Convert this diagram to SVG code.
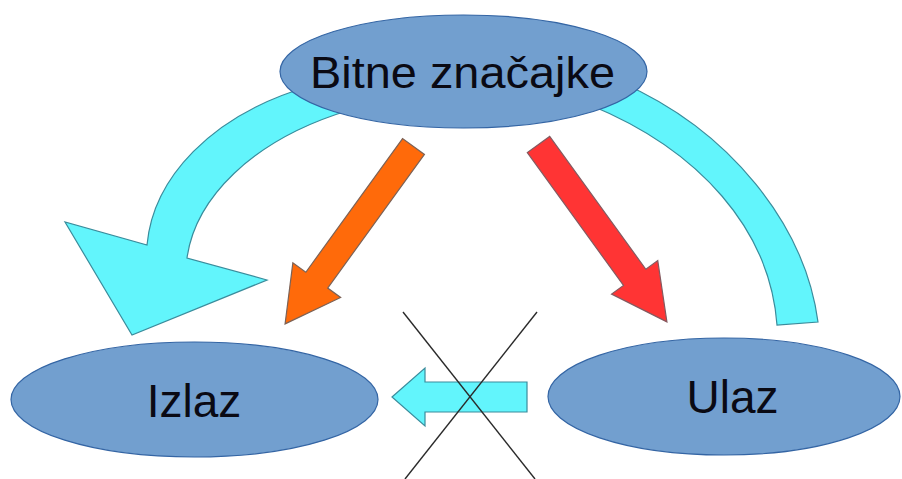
<svg xmlns="http://www.w3.org/2000/svg" width="902" height="479" viewBox="0 0 902 479">
  <defs>
    <style>
      .node { fill: #729fcf; stroke: #3465a4; stroke-width: 1.2; }
      .label { font-family: "Liberation Sans", Arial, sans-serif; fill: #0a0a14; text-anchor: middle; }
      .cyan { fill: #62f5fc; stroke: #3a8c9c; stroke-width: 1.2; stroke-linejoin: miter; }
      .orange { fill: #ff6a0a; stroke: #7c6256; stroke-width: 1.2; }
      .red { fill: #ff3434; stroke: #845a60; stroke-width: 1.2; }
      .cross { stroke: #2a2a2a; stroke-width: 1.4; fill: none; }
    </style>
  </defs>
  <rect width="902" height="479" fill="#ffffff"/>

  <g id="connectors">
    <!-- left curved arrow from top ellipse to Izlaz -->
    <path class="cyan" d="M 310,86 C 210,115 153,179 147,245 L 65,222 L 132,335 L 267,280 L 187,258 C 195,200 250,140 350,110 Z"/>
    <!-- right curved band from top ellipse down towards Ulaz -->
    <path class="cyan" d="M 620,82 C 730,130 805,225 818,322 L 777,325 C 770,230 700,150 590,105 Z"/>
    <!-- orange straight arrow -->
    <polygon class="orange" transform="translate(413.5,146.5) rotate(125.9)" points="0,-13.5 165,-13.5 165,-29.5 219,0 165,29.5 165,13.5 0,13.5"/>
    <!-- red straight arrow -->
    <polygon class="red" transform="translate(538.5,144.5) rotate(54.1)" points="0,-13.8 164,-13.8 164,-28.5 219,0 164,28.5 164,13.8 0,13.8"/>
    <!-- bottom left-pointing arrow -->
    <polygon class="cyan" points="392,397 425,368 425,382 527,382 527,412 425,412 425,426"/>
  </g>

  <g id="cross">
    <line class="cross" x1="403" y1="312" x2="535" y2="479"/>
    <line class="cross" x1="537" y1="312" x2="405" y2="479"/>
  </g>

  <g id="node-bitne">
    <ellipse class="node" cx="463.5" cy="71.5" rx="183.5" ry="56.5"/>
    <text class="label" x="462.5" y="88" font-size="44" textLength="305" lengthAdjust="spacingAndGlyphs">Bitne značajke</text>
  </g>

  <g id="node-izlaz">
    <ellipse class="node" cx="194.5" cy="399.5" rx="183.5" ry="57.5"/>
    <text class="label" x="194" y="417" font-size="46">Izlaz</text>
  </g>

  <g id="node-ulaz">
    <ellipse class="node" cx="724" cy="396.5" rx="176" ry="58.5"/>
    <text class="label" x="732.5" y="413" font-size="46">Ulaz</text>
  </g>
</svg>
